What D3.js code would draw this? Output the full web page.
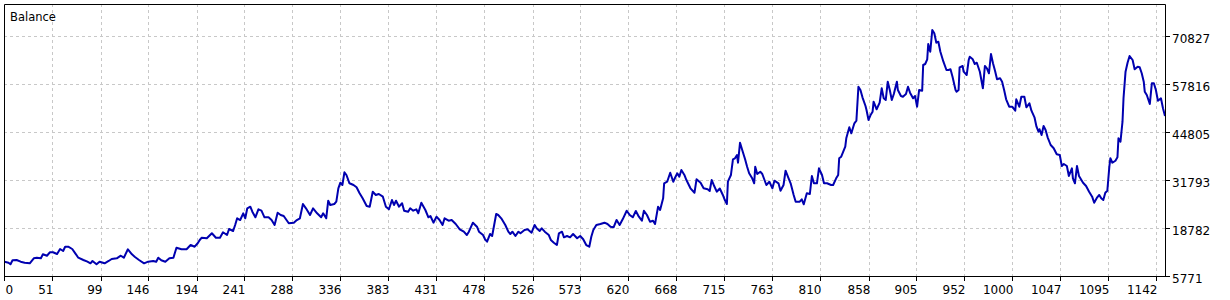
<!DOCTYPE html>
<meta charset="utf-8">
<script src="https://d3js.org/d3.v7.min.js"></script>
<style>
  body { margin: 0; background: #fff; }
  text { font-family: "DejaVu Sans", sans-serif; fill: #000; }
</style>
<div id="chart"></div>
<script>

// trade number and balance after it
var trades = [4, 8, 10, 12, 16, 20, 24, 29, 33, 36, 40, 42, 46, 49, 52, 56, 59, 62, 64, 67, 71, 74, 77, 82, 86, 89, 91, 95, 98, 103, 107, 110, 115, 119, 122, 126, 130, 133, 137, 142, 146, 151, 154, 156, 159, 163, 167, 171, 174, 179, 184, 188, 192, 195, 197, 199, 204, 209, 213, 217, 220, 224, 226, 230, 232, 234, 237,
  240, 242, 244, 247, 249, 252, 255, 258, 261, 265, 268, 271, 274, 277, 280, 285, 290, 293, 296, 299, 302, 306, 309, 313, 317, 319, 322, 324, 326, 330, 332, 334, 336, 338, 340, 342, 345, 349, 352, 355, 358, 362, 365, 368, 371, 374, 378, 381, 384, 387, 389, 391, 394, 397, 399, 403, 405, 408, 411, 413, 416, 420, 423, 425, 428, 431, 434, 437, 439, 443, 446, 450, 454, 458, 461, 463, 467, 471, 473,
  477, 479, 481, 484, 486, 488, 490, 492, 495, 499, 502, 504, 506, 509, 512, 514, 518, 521, 525, 528, 530, 533, 535, 538, 542, 544, 547, 550, 552, 555, 557, 560, 563, 566, 570, 573, 576, 579, 582, 584, 586, 589, 593, 597, 600, 603, 606, 609, 612, 615, 619, 622, 625, 628, 631, 634, 636, 639, 642, 645, 647, 650, 652, 655, 656, 659, 662, 665, 667, 669, 671, 673, 676, 678, 682, 686, 688, 692, 695, 699, 701, 703, 705, 708, 711,
  714, 716, 718, 719, 722, 724, 726, 728, 729, 731, 734, 736, 738, 740, 743, 745, 746, 748, 751, 753, 757, 760, 763, 765, 769, 771, 774, 776, 779, 781, 784, 786, 790, 792, 794, 797, 800, 802, 804, 807, 809, 812, 814, 817, 821, 823, 826, 828, 829, 831, 833, 835, 836, 839, 841, 844, 846, 848, 850, 852, 855, 856, 858, 860, 862, 863, 866, 869, 871, 873, 875, 877, 879, 881, 883, 886, 887, 890, 892, 895, 897, 899, 902, 904, 906, 908, 911, 912, 914, 916, 917, 919, 921, 923, 925, 927, 929, 932, 935, 937, 939, 941, 944, 945, 947, 948,
  951, 952, 955, 957, 958, 961, 963, 965, 968, 971, 973, 975, 977, 979, 981, 983, 985, 988, 990, 992, 994, 997, 1000, 1003, 1004, 1007, 1009, 1012, 1014, 1017, 1019, 1022, 1024, 1026, 1027, 1029, 1031, 1033, 1035, 1038, 1041, 1044, 1047, 1049, 1051, 1054, 1056, 1059, 1060, 1062, 1064, 1066, 1070, 1073, 1076, 1079, 1081, 1084, 1086, 1088, 1090, 1092, 1094, 1096, 1097, 1099, 1102, 1104, 1105, 1107, 1109, 1110, 1112, 1114, 1116, 1119, 1121, 1124, 1126, 1128, 1130, 1131, 1133, 1136, 1138, 1140, 1142, 1144, 1147, 1149, 1151];

var balance = [9650, 9380, 8940, 10030, 10110, 9650, 9380, 9210, 10570, 10730, 10570, 11650, 11270, 12200, 12200, 11730, 13090, 12550, 13710, 13710, 13090, 11920, 10730, 10110, 9650, 9210, 9840, 8940, 9650, 9210, 9840, 10380, 10570, 11270, 10730, 13010, 11650, 10920, 10110, 9210, 9650, 9840, 9650, 10730, 10030, 9650, 10570, 10730, 13440, 13010, 13010, 14170, 13710, 14640, 15530, 16150, 15990, 17350, 16150, 16150, 17620, 16880, 18510, 17970, 19600, 21410, 20950,
  22770, 21410, 24120, 24560, 23200, 21680, 23850, 23470, 21680, 21680, 20950, 19600, 22930, 22310, 22040, 20060, 20220, 20950, 21410, 25290, 24120, 22310, 24120, 22770, 21680, 22770, 21410, 26180, 25020, 25290, 25910, 29540, 31060, 30440, 33880, 33150, 30900, 30440, 29810, 28190, 26830, 24750, 24560, 28620, 27730, 28000, 27270, 24560, 23850, 26370, 25020, 26180, 24560, 25480, 23470, 23200, 24120, 23470, 23850, 22770, 25640, 23660, 21680, 22040, 20220, 21850, 20950, 19600, 21410, 20760, 20950, 19870, 18430, 17780, 16880, 17780, 20220, 19130, 17780,
  16880, 15720, 15070, 17160, 16610, 19600, 22580, 22310, 21410, 19600, 17780, 17160, 17780, 16610, 17780, 17350, 18240, 18430, 17510, 19600, 18700, 17970, 18700, 17780, 16880, 15530, 14800, 14170, 17350, 17780, 16260, 16610, 16260, 17160, 15990, 16610, 15720, 14170, 13710, 16420, 18240, 19600, 19870, 20220, 19870, 19130, 18970, 20950, 19600, 21140, 23470, 22310, 21680, 23390, 21850, 20760, 23470, 22310, 20490, 20760, 19870, 24560, 23660, 26830, 30900, 31330, 33770, 31330, 32530, 33610, 32690, 34500, 33150, 31790, 29540, 28350, 31980, 31060, 29540, 29270, 28810, 31790, 30440, 28620, 29500,
  27730, 26370, 25290, 31330, 33150, 37400, 37680, 38570, 36480, 41900, 39190, 37400, 35400, 33610, 32250, 30900, 35400, 33420, 34040, 33420, 30440, 31330, 29540, 31600, 30900, 28890, 30440, 34310, 32250, 30900, 27730, 25910, 25910, 26560, 25210, 28190, 28000, 32880, 30900, 30900, 34960, 33150, 30900, 30900, 30440, 30440, 32250, 33150, 37680, 38110, 39460, 40820, 43100, 46080, 44450, 47160, 47870, 57080, 56190, 54210, 51850, 50770, 48060, 49410, 50310, 53020, 50960, 52750, 56650, 53940, 53480, 58440, 56190, 53480, 55100, 58440, 56190, 54560, 54370, 55100, 57080, 55460, 53940, 54560, 51660, 56190, 56000, 62970, 63240, 64510, 68660, 66570, 72450, 71560, 69010, 69280, 66570, 63860, 61610, 61610, 61800, 59790, 56190, 55730, 56190, 62340,
  62690, 61150, 60250, 64320, 65220, 64510, 63240, 63590, 61150, 56650, 62690, 62070, 60720, 65950, 63430, 61420, 59090, 59360, 58440, 56190, 53670, 51660, 51660, 50580, 53670, 51660, 54370, 54370, 51500, 52580, 50580, 48790, 46240, 44890, 45540, 43990, 46430, 45350, 43370, 41280, 40390, 38760, 38570, 35590, 36130, 35590, 32880, 34960, 32250, 30900, 35590, 32880, 31060, 30170, 28620, 27270, 25640, 27100, 27730, 26830, 26370, 28350, 28890, 35400, 37680, 36480, 37020, 37950, 43100, 42170, 47600, 53940, 61150, 63590, 65400, 64320, 61800, 62500, 62340, 60720, 58440, 55730, 54830, 52390, 58000, 58000, 56190, 53290, 53940, 51230, 49140];

var xTicks = [0, 51, 99, 146, 194, 241, 288, 336, 383, 431, 478, 526, 573, 620, 668, 715, 763, 810, 858, 905, 952, 1000, 1047, 1095, 1142];
var yTicks = [5771, 18782, 31793, 44805, 57816, 70827];

var width = 1230, height = 300;
var plot = {left: 4, top: 4, right: 1165, bottom: 276};

var x = d3.scaleLinear().domain([0, 1151]).range([0.4, plot.right]);
var y = d3.scaleLinear().domain([5771, 70827]).range([plot.bottom, 36]);

// snap 1px lines onto pixel rows/columns
function px(v) { return Math.round(v) + 0.5; }
function xTick(v) { return Math.max(plot.left, Math.round(x(v))) + 0.5; }

var svg = d3.select("#chart")
  .append("svg")
    .attr("width", width)
    .attr("height", height);

// grid
svg.append("g")
  .selectAll("line")
  .data(xTicks.slice(1))
  .enter()
  .append("line")
    .attr("x1", xTick).attr("x2", xTick)
    .attr("y1", plot.top).attr("y2", plot.bottom)
    .style("stroke", "#c8c8c8")
    .style("stroke-dasharray", "3,3");

svg.append("g")
  .selectAll("line")
  .data(yTicks.slice(1))
  .enter()
  .append("line")
    .attr("x1", plot.left).attr("x2", plot.right)
    .attr("y1", function(d) { return px(y(d)); })
    .attr("y2", function(d) { return px(y(d)); })
    .style("stroke", "#c8c8c8")
    .style("stroke-dasharray", "3,3");

// balance line
var line = d3.line()
  .x(function(d, i) { return x(trades[i]); })
  .y(function(d) { return y(d); });

svg.append("path")
  .datum(balance)
  .attr("d", line)
  .style("fill", "none")
  .style("stroke", "#0000b0")
  .style("stroke-width", 2)
  .style("stroke-linejoin", "round");

// frame
svg.append("path")
  .attr("d", "M" + (plot.left + 0.5) + "," + (plot.bottom + 0.5) +
             "V" + (plot.top + 0.5) + "H" + (plot.right + 0.5) +
             "V" + (plot.bottom + 0.5) + "H" + (plot.left + 0.5))
  .style("fill", "none")
  .style("stroke", "#000");

// x axis ticks and labels
var xg = svg.append("g");
xg.selectAll("line")
  .data(xTicks)
  .enter()
  .append("line")
    .attr("x1", xTick).attr("x2", xTick)
    .attr("y1", plot.bottom).attr("y2", plot.bottom + 5)
    .style("stroke", "#000");
xg.selectAll("text")
  .data(xTicks)
  .enter()
  .append("text")
    .attr("x", function(d, i) { return i == 0 ? plot.left + 1.5 : xTick(d) + 1; })
    .attr("y", 294)
    .style("font-size", "12px")
    .style("text-anchor", function(d, i) { return i == 0 ? "start" : "end"; })
    .text(function(d) { return d; });

// y axis ticks and labels
var yg = svg.append("g");
yg.selectAll("line")
  .data(yTicks)
  .enter()
  .append("line")
    .attr("x1", plot.right).attr("x2", plot.right + 5)
    .attr("y1", function(d) { return px(y(d)); })
    .attr("y2", function(d) { return px(y(d)); })
    .style("stroke", "#000");
yg.selectAll("text")
  .data(yTicks)
  .enter()
  .append("text")
    .attr("x", 1172)
    .attr("y", function(d) { return Math.round(y(d)) + 7; })
    .style("font-size", "12px")
    .text(function(d) { return d; });

svg.append("text")
  .attr("x", 10)
  .attr("y", 21)
  .style("font-size", "11.5px")
  .text("Balance");

</script>
